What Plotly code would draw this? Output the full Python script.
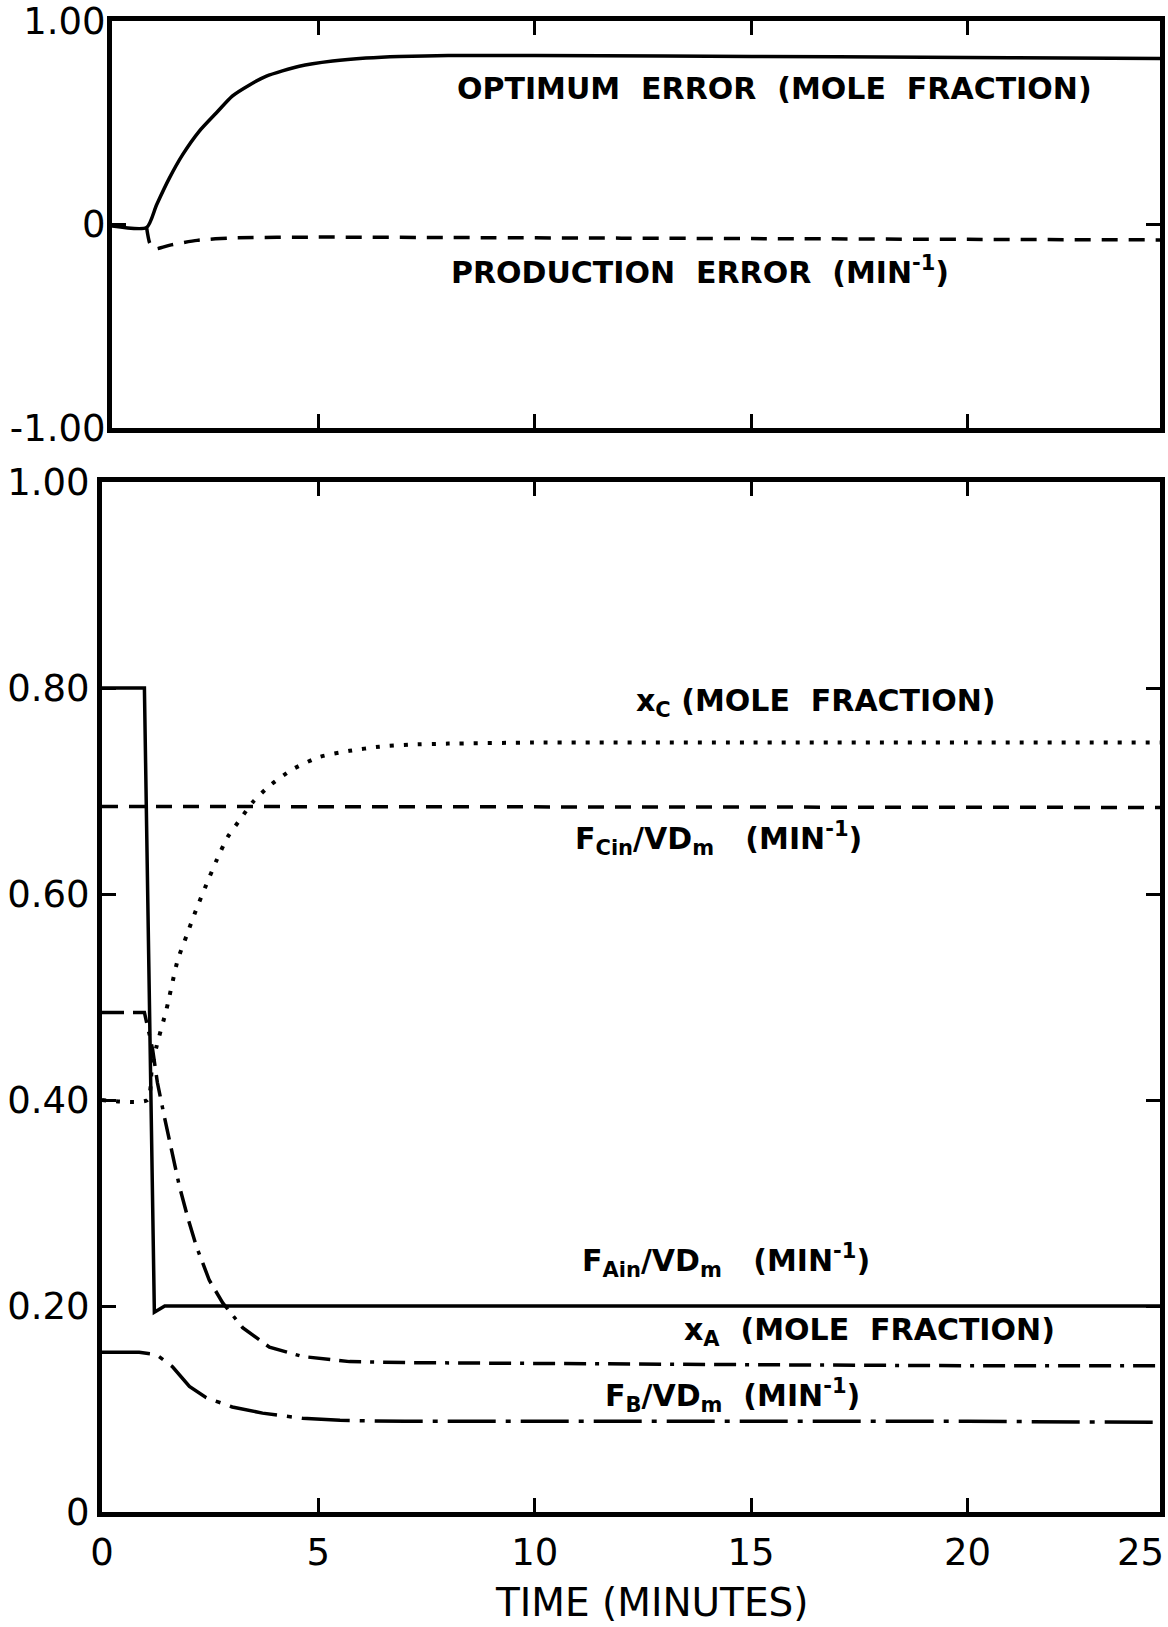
import plotly.graph_objects as go

# ---------------- upper panel: controller errors ----------------
t_opt = [0.0, 1.03, 1.26, 1.56, 1.86, 2.25, 2.64, 3.01, 3.41, 3.80, 4.56, 5.33, 6.1, 6.87, 8, 10, 13, 17, 21, 25]
optimum_error = [0.0, -0.015, 0.096, 0.229, 0.342, 0.459, 0.548, 0.631, 0.686, 0.729, 0.778, 0.803, 0.818,
                 0.826, 0.830, 0.830, 0.828, 0.824, 0.820, 0.815]

t_prod = [1.03, 1.1, 1.2, 1.6, 2.2, 3.0, 5, 8, 12, 16, 20, 25]
production_error = [-0.015, -0.09, -0.12, -0.10, -0.078, -0.066, -0.062, -0.064, -0.067, -0.070, -0.073, -0.076]

# ---------------- lower panel: feeds and compositions ----------------
t_fain = [0, 0.98, 1.21, 1.45, 25]
f_ain = [0.80, 0.80, 0.194, 0.20, 0.20]

t_fcin = [0, 25]
f_cin = [0.685, 0.684]

t_xc = [0, 1.05, 1.15, 1.26, 1.49, 1.75, 1.95, 2.16, 2.41, 2.64, 2.90, 3.22, 3.48, 3.87, 4.40, 5.02,
        5.72, 6.41, 7.1, 8, 10, 15, 20, 25]
x_c = [0.40, 0.40, 0.43, 0.452, 0.488, 0.536, 0.559, 0.583, 0.609, 0.632, 0.655, 0.674, 0.689, 0.705,
       0.721, 0.733, 0.739, 0.743, 0.745, 0.746, 0.747, 0.747, 0.747, 0.747]

t_xa = [0, 0.98, 1.17, 1.28, 1.44, 1.6, 1.79, 1.98, 2.18, 2.48, 2.79, 3.25, 3.87, 4.63, 5.72, 7.1,
        10, 15, 20, 25]
x_a = [0.485, 0.485, 0.449, 0.417, 0.384, 0.352, 0.316, 0.286, 0.258, 0.225, 0.203, 0.179, 0.160,
       0.151, 0.146, 0.145, 0.144, 0.143, 0.142, 0.142]

t_fb = [0, 0.86, 1.25, 1.63, 2.02, 2.41, 3.01, 3.71, 4.63, 5.5, 7, 10, 15, 20, 25]
f_b = [0.155, 0.155, 0.153, 0.141, 0.122, 0.111, 0.102, 0.096, 0.091, 0.089, 0.088, 0.088, 0.088,
       0.088, 0.087]

x_ticks = [0, 5, 10, 15, 20]
x_ticktext = ["0", "5", "10", "15", "20"]
top_y_ticks = [-1, 0, 1]
top_y_ticktext = ["-1.00", "0", "1.00"]
bot_y_ticks = [0, 0.2, 0.4, 0.6, 0.8, 1.0]
bot_y_ticktext = ["0", "0.20", "0.40", "0.60", "0.80", "1.00"]

# time axis ends just short of the 25-minute mark, which is labelled at the corner
T_END = 24.45

INK = "black"
TICK_FONT = dict(family="DejaVu Sans", size=37, color=INK)
LABEL_FONT = dict(family="DejaVu Sans", size=30, color=INK, weight="bold")
NB = "\u00a0"

fig = go.Figure()

def add(x, y, xa, ya, dash, width=3.5, shape="linear"):
    fig.add_trace(go.Scatter(x=x, y=y, xaxis=xa, yaxis=ya, mode="lines",
                             line=dict(color=INK, width=width, dash=dash, shape=shape, smoothing=0.6),
                             showlegend=False, hoverinfo="skip"))

# upper panel
add(t_opt, optimum_error, "x", "y", "solid", shape="spline")
add(t_prod, production_error, "x", "y", "16px,11px", shape="spline")

# lower panel
add(t_fain, f_ain, "x2", "y2", "solid")
add(t_fcin, f_cin, "x2", "y2", "16px,11px")
add(t_xc, x_c, "x2", "y2", "4px,10px", width=4, shape="spline")
add(t_xa, x_a, "x2", "y2", "22px,9px,22px,9px,4px,9px")
add(t_fb, f_b, "x2", "y2", "48px,10px,5px,10px")

axis_common = dict(showline=True, linewidth=5, linecolor=INK, mirror="ticks", ticks="inside",
                   ticklen=14, tickwidth=3, tickcolor=INK, showgrid=False, zeroline=False,
                   tickfont=TICK_FONT, automargin=False, ticklabeloverflow="allow")

W, H = 1168, 1627
L, R, T, B = 102, 8, 21, 115
plot_w = W - L - R
plot_h = H - T - B

fig.update_layout(
    width=W, height=H,
    margin=dict(l=L, r=R, t=T, b=B, autoexpand=False),
    paper_bgcolor="white", plot_bgcolor="white",
    xaxis=dict(axis_common, domain=[10 / plot_w, 1], range=[10 / plot_w * T_END, T_END], anchor="y",
               tickvals=[5, 10, 15, 20], showticklabels=False),
    yaxis=dict(axis_common, domain=[(1512 - 428) / plot_h, 1], range=[-1, 1], anchor="x",
               tickvals=top_y_ticks, ticktext=top_y_ticktext, ticklabelstandoff=-6),
    xaxis2=dict(axis_common, domain=[0, 1], range=[0, T_END], anchor="y2",
                tickvals=x_ticks, ticktext=x_ticktext, ticklabelstandoff=4),
    yaxis2=dict(axis_common, domain=[0, (1512 - 482) / plot_h], range=[0, 1], anchor="x2",
                tickvals=bot_y_ticks, ticktext=bot_y_ticktext, ticklabelstandoff=0),
)

# positions below are page pixels; converted to paper fractions
annotations = [
    dict(text="25", x=1165, y=1553, xanchor="right", font=TICK_FONT),
    dict(text="TIME (MINUTES)", x=652, y=1626, yanchor="bottom",
         font=dict(family="DejaVu Sans", size=39, color=INK)),
    dict(text=f"OPTIMUM{NB}{NB}ERROR{NB}{NB}(MOLE{NB}{NB}FRACTION)", x=774, y=88, font=LABEL_FONT),
    dict(text=f"PRODUCTION{NB}{NB}ERROR{NB}{NB}(MIN<sup>-1</sup>)", x=700, y=270, font=LABEL_FONT),
    dict(text=f"x<sub>C</sub>{NB}(MOLE{NB}{NB}FRACTION)", x=635, y=702, xanchor="left", font=LABEL_FONT),
    dict(text=f"F<sub>Cin</sub>/VD<sub>m</sub>{NB}{NB}{NB}(MIN<sup>-1</sup>)", x=574, y=838, xanchor="left", font=LABEL_FONT),
    dict(text=f"F<sub>Ain</sub>/VD<sub>m</sub>{NB}{NB}{NB}(MIN<sup>-1</sup>)", x=581, y=1260, xanchor="left", font=LABEL_FONT),
    dict(text=f"x<sub>A</sub>{NB}{NB}(MOLE{NB}{NB}FRACTION)", x=683, y=1331, xanchor="left", font=LABEL_FONT),
    dict(text=f"F<sub>B</sub>/VD<sub>m</sub>{NB}{NB}(MIN<sup>-1</sup>)", x=604, y=1395, xanchor="left", font=LABEL_FONT),
]

for a in annotations:
    a["xref"] = "paper"
    a["yref"] = "paper"
    a["x"] = (a["x"] - L) / plot_w
    a["y"] = (H - B - a["y"]) / plot_h
    a.setdefault("xanchor", "center")
    a.setdefault("yanchor", "middle")
    a["showarrow"] = False
    a["borderpad"] = 0
fig.update_layout(annotations=annotations)

fig.write_html("out.html")
